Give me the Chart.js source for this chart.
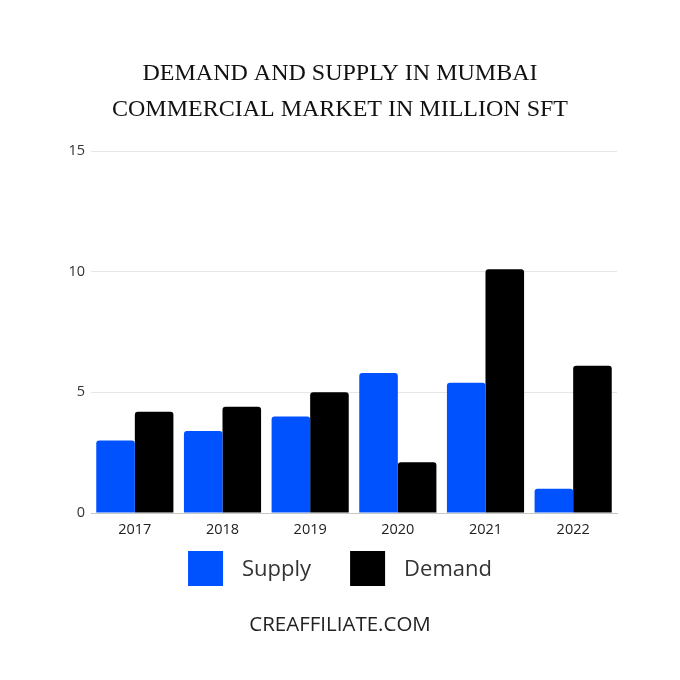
<!DOCTYPE html>
<html><head><meta charset="utf-8">
<script src="https://cdn.jsdelivr.net/npm/chart.js@4.4.1/dist/chart.umd.min.js"></script>
<style>html,body{margin:0;padding:0;background:#fff}#wrap{width:680px;height:680px}</style>
</head><body><div id="wrap"><canvas id="c" width="680" height="680"></canvas></div>
<script>
const years = ['2017','2018','2019','2020','2021','2022'];
const supply = [3.0, 3.4, 4.0, 5.8, 5.4, 1.0];
const demand = [4.2, 4.4, 5.0, 2.1, 10.1, 6.1];
const seriesNames = ['Supply', 'Demand'];
const yTicks = [0, 5, 10, 15];
const titleLines = ['DEMAND AND SUPPLY IN MUMBAI', 'COMMERCIAL MARKET IN MILLION SFT'];
const footerText = 'CREAFFILIATE.COM';

const boxLegend = {
  id: 'boxLegend',
  afterDraw(chart) {
    const ctx = chart.ctx;
    const ds = chart.data.datasets;
    ctx.save();
    ctx.font = '22px "Open Sans"';
    const box = 35, gapText = 19, gapItem = 39;
    const widths = ds.map(d => box + gapText + ctx.measureText(d.label).width);
    const total = widths.reduce((a, b) => a + b, 0) + gapItem * (ds.length - 1);
    let x = (chart.width - total) / 2;
    const y = chart.chartArea.bottom + 38;
    ds.forEach((d, i) => {
      ctx.fillStyle = d.backgroundColor;
      ctx.fillRect(x, y, box, box);
      ctx.fillStyle = '#333';
      ctx.textBaseline = 'middle';
      ctx.textAlign = 'left';
      ctx.fillText(d.label, x + box + gapText, y + box / 2 + 1);
      x += widths[i] + gapItem;
    });
    ctx.restore();
  }
};

new Chart(document.getElementById('c'), {
  type: 'bar',
  data: {
    labels: years,
    datasets: [
      { label: seriesNames[0], data: supply, backgroundColor: '#0052ff', borderRadius: 3, categoryPercentage: 0.88, barPercentage: 1.0 },
      { label: seriesNames[1], data: demand, backgroundColor: '#000000', borderRadius: 3, categoryPercentage: 0.88, barPercentage: 1.0 }
    ]
  },
  options: {
    responsive: false,
    animation: false,
    layout: { padding: { top: 56, left: 63, right: 63, bottom: 43 } },
    plugins: {
      legend: { display: false },
      tooltip: { enabled: false },
      title: {
        display: true,
        text: titleLines,
        color: '#111',
        font: { family: '"Liberation Serif", serif', size: 24, weight: 'normal', lineHeight: 1.5 },
        padding: { top: 0, bottom: 23 }
      },
      subtitle: {
        display: true,
        position: 'bottom',
        text: footerText,
        color: '#222',
        font: { family: '"Open Sans", sans-serif', size: 20.5, weight: 'normal', lineHeight: 1.2 },
        padding: { top: 66, bottom: 0 }
      }
    },
    scales: {
      x: {
        grid: { display: false, drawTicks: false },
        border: { display: true, color: '#c8c8c8' },
        ticks: { color: '#222', padding: 8, font: { family: '"Open Sans", sans-serif', size: 14.5 } }
      },
      y: {
        min: 0, max: 15,
        afterBuildTicks(scale) { scale.ticks = yTicks.map(v => ({ value: v })); },
        afterFit(scale) { scale.width = 28; },
        grid: { color: '#e6e6e6', drawTicks: false },
        border: { display: false },
        ticks: { color: '#333', padding: 6, font: { family: '"Open Sans", sans-serif', size: 14.5 } }
      }
    }
  },
  plugins: [boxLegend]
});
</script>
</body></html>
